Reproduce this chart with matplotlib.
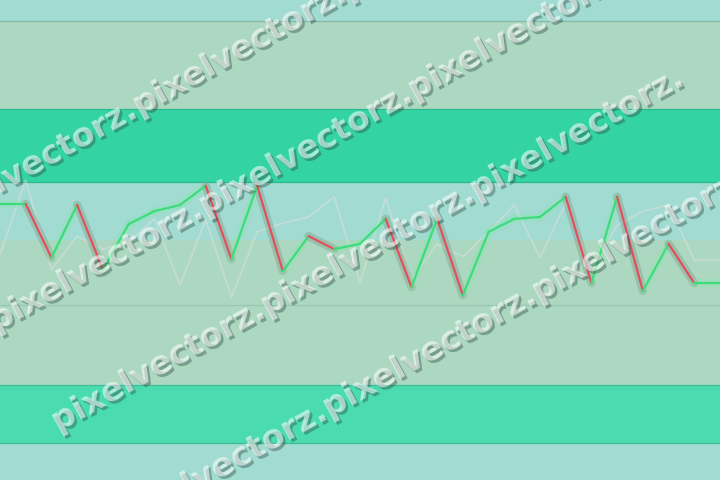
import numpy as np
import matplotlib.pyplot as plt
from matplotlib.collections import LineCollection
from matplotlib.colors import to_rgb
import matplotlib.patheffects as pe

# series values (arbitrary 0-100 scale)
x_idx = list(range(29))
main_vals = [57.5, 57.5, 46.3, 57.3, 43.8, 53.3, 56.0, 57.3, 61.3, 46.0,
             61.3, 43.5, 50.8, 48.1, 49.2, 54.4, 40.2, 54.4, 38.5, 51.7,
             54.4, 54.8, 59.0, 41.0, 59.0, 39.4, 49.2, 41.0, 41.0]
ghost_vals = [47.0, 62.5, 43.8, 50.8, 48.1, 49.5, 54.4, 40.6, 54.2, 38.1,
              51.7, 53.5, 54.8, 59.0, 41.0, 58.8, 41.7, 49.2, 46.5, 51.7,
              57.3, 46.3, 57.7, 43.8, 53.1, 56.0, 57.3, 45.8, 45.8]

# background bands
band_lo = [0.0, 7.7, 19.8, 36.5, 50.0, 62.1, 77.3, 95.6]
band_hi = [7.7, 19.8, 36.5, 50.0, 62.1, 77.3, 95.6, 100.0]
band_col = ['#a2dbd2', '#4adbb0', '#acd8c1', '#acd8c1', '#a2dbd2',
            '#33d3a3', '#acd8c1', '#a2dbd2']
edge_lines = [7.7, 19.8, 36.5, 62.1, 77.3, 95.6]
edge_cols = ['#3dbd97', '#3dbd97', '#98c6b2', '#2cb98e', '#2cb98e', '#88b8a8']

fig = plt.figure(figsize=(7.2, 4.8), dpi=100)
ax = fig.add_axes([0, 0, 1, 1])
ax.set_xlim(0, 28)
ax.set_ylim(0, 100)
ax.axis('off')

for lo, hi, c in zip(band_lo, band_hi, band_col):
    ax.axhspan(lo, hi, color=c, lw=0, zorder=0)
for y, c in zip(edge_lines, edge_cols):
    ax.axhline(y, color=c, lw=0.9, zorder=1)

# faint comparison line
ax.plot(x_idx, ghost_vals, color='#ece4e0', alpha=0.4, lw=1.3, zorder=2)

# up / down coloured segments
pts = np.column_stack([x_idx, main_vals])
segs = np.stack([pts[:-1], pts[1:]], axis=1)
up = np.diff(main_vals) >= 0
seg_col = np.where(up, '#3ddc7b', '#e2505b')
halo_col = np.where(up, '#7fe8a8', '#7d8f84')
halo_a = np.where(up, 0.25, 0.35)
halo_rgba = [(*to_rgb(c), a) for c, a in zip(halo_col, halo_a)]
ax.add_collection(LineCollection(segs, colors=halo_rgba, linewidths=6,
                                 capstyle='round', zorder=3))
ax.add_collection(LineCollection(segs, colors=list(seg_col), linewidths=1.6,
                                 capstyle='round', zorder=4))

# watermark rows (start point of each row, in pixels from top-left)
W, H = 720, 480
rows = [(-70, 232), (-4, 332), (58, 432), (120, 534)]
reps = [4, 4, 3, 4]
for (px, py), n in zip(rows, reps):
    fig.text(px / W, 1 - py / H, 'pixelvectorz.' * n, fontsize=23.7,
             fontweight='bold', family='DejaVu Sans', color='white', alpha=0.55,
             rotation=29, rotation_mode='anchor', ha='left', va='baseline',
             zorder=10,
             path_effects=[pe.withSimplePatchShadow(offset=(1.8, -1.8),
                                                   shadow_rgbFace='#2c4a40',
                                                   alpha=0.4)])

fig.savefig('out.png', dpi=100)
